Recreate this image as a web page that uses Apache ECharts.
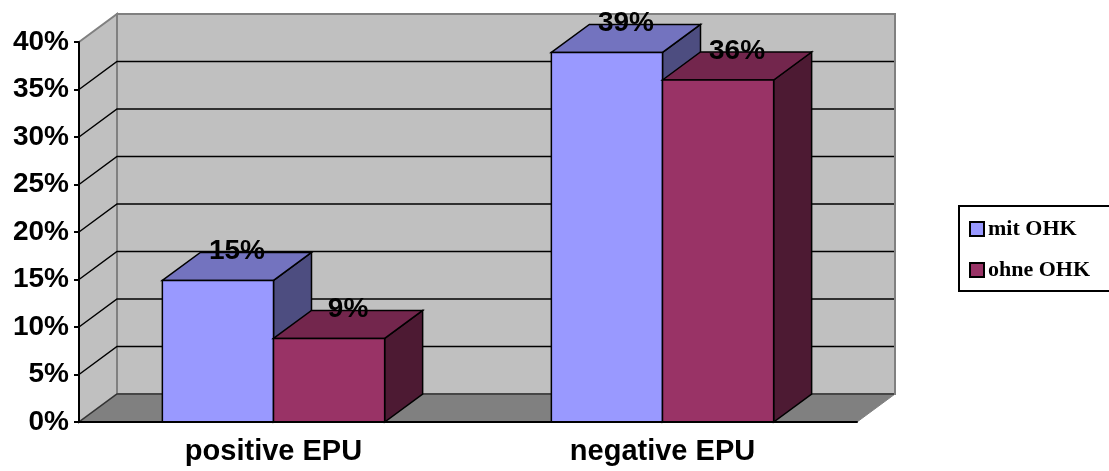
<!DOCTYPE html>
<html>
<head>
<meta charset="utf-8">
<style>
  html, body { margin: 0; padding: 0; background: #fff; }
  #chart { width: 1109px; height: 471px; }
</style>
</head>
<body>
<div id="chart"></div>
<script src="https://cdn.jsdelivr.net/npm/echarts@6/dist/echarts.min.js"></script>
<script>
const categories = ['positive EPU', 'negative EPU']
const seriesNames = ['mit OHK', 'ohne OHK']
const mitOhk = [14.9, 8.8 + 0, 0, 0].slice(0, 1).concat([38.9])
const ohneOhk = [8.8, 36]
const yTicks = [0, 5, 10, 15, 20, 25, 30, 35, 40]

// depth of the fake 3d box, in px
const DX = 38
const DY = 28
const BAR_W = 0.2857 // share of one category band

const myChart = echarts.init(document.getElementById('chart'), null, { renderer: 'canvas' })

const poly = (points, fill, stroke, lineWidth) => ({
  type: 'polygon',
  silent: true,
  shape: { points },
  style: { fill, stroke, lineWidth: lineWidth || 0 }
})

const renderWalls = (params, api) => {
  const c = params.coordSys
  const l = c.x, r = c.x + c.width, t = c.y, b = c.y + c.height
  const children = [
    poly([[l + DX, t - DY], [r + DX, t - DY], [r + DX, b - DY], [l + DX, b - DY]], '#C0C0C0', '#808080', 2),
    poly([[l, t], [l + DX, t - DY], [l + DX, b - DY], [l, b]], '#C0C0C0', '#808080', 2),
    poly([[l, b], [l + DX, b - DY], [r + DX, b - DY], [r, b]], '#808080', '#808080', 1)
  ]
  yTicks.forEach((tick) => {
    const y = api.coord([0, tick])[1]
    const dark = tick > 0
    children.push({
      type: 'polyline',
      silent: true,
      shape: { points: [[l, y], [l + DX, y - DY], [r + DX - 1, y - DY]] },
      style: { fill: null, stroke: tick >= 40 ? 'transparent' : (dark ? '#000' : '#333'), lineWidth: 1.5 }
    })
  })
  return { type: 'group', children }
}

const renderBar = (seriesIdx, front, top, side) => (params, api) => {
  const band = api.size([1, 0])[0]
  const w = band * BAR_W
  const p = api.coord([api.value(0), api.value(1)])
  const base = api.coord([api.value(0), 0])[1]
  const x0 = p[0] + (seriesIdx - 1) * w
  const x1 = x0 + w
  const y = p[1]
  return {
    type: 'group',
    children: [
      poly([[x1, y], [x1 + DX, y - DY], [x1 + DX, base - DY], [x1, base]], side, '#000', 1.5),
      poly([[x0, y], [x0 + DX, y - DY], [x1 + DX, y - DY], [x1, y]], top, '#000', 1.5),
      poly([[x0, y], [x1, y], [x1, base], [x0, base]], front, '#000', 1.5),
      {
        type: 'text',
        silent: true,
        z2: 10,
        style: {
          x: (x0 + x1) / 2 + DX / 2,
          y: y - DY - 1,
          text: Math.round(api.value(1)) + '%',
          fill: '#000',
          font: 'bold 28px "Liberation Sans"',
          align: 'center',
          verticalAlign: 'middle'
        }
      }
    ]
  }
}

const option = {
  animation: false,
  backgroundColor: '#fff',
  textStyle: { fontFamily: 'Liberation Sans' },
  grid: { left: 79, top: 42, width: 778, height: 380, containLabel: false },
  legend: {
    data: seriesNames,
    orient: 'vertical',
    left: 959,
    top: 206,
    padding: [12, 30, 10, 10],
    itemWidth: 14,
    itemHeight: 14,
    itemGap: 19,
    icon: 'rect',
    borderColor: '#000',
    borderWidth: 2,
    selectedMode: false,
    textStyle: { fontFamily: 'Liberation Serif', fontWeight: 'bold', fontSize: 22, color: '#000', padding: [0, 0, 0, -1] }
  },
  xAxis: {
    type: 'category',
    data: categories,
    z: 5,
    axisLine: { lineStyle: { color: '#000', width: 2 } },
    axisTick: { length: 6, lineStyle: { color: '#000', width: 2 } },
    axisLabel: { color: '#000', fontWeight: 'bold', fontSize: 29, margin: 15, fontFamily: 'Liberation Sans' },
    splitLine: { show: false }
  },
  yAxis: {
    type: 'value',
    min: 0,
    max: 40,
    interval: 5,
    z: 5,
    axisLine: { show: true, lineStyle: { color: '#000', width: 2 } },
    axisTick: { show: true, length: 5, lineStyle: { color: '#000', width: 2 } },
    axisLabel: { color: '#000', fontWeight: 'bold', fontSize: 28, margin: 10, formatter: '{value}%', fontFamily: 'Liberation Sans' },
    splitLine: { show: false }
  },
  series: [
    { type: 'custom', name: 'walls', z: 1, data: [[0, 0]], encode: { x: 0, y: 1 }, renderItem: renderWalls, silent: true },
    {
      type: 'custom', name: seriesNames[0], z: 2,
      itemStyle: { color: '#9999FF', borderColor: '#000', borderWidth: 2 },
      data: mitOhk.map((v, i) => [i, v]), encode: { x: 0, y: 1 },
      renderItem: renderBar(0, '#9999FF', '#7373BF', '#4D4D80')
    },
    {
      type: 'custom', name: seriesNames[1], z: 3,
      itemStyle: { color: '#993366', borderColor: '#000', borderWidth: 2 },
      data: ohneOhk.map((v, i) => [i, v]), encode: { x: 0, y: 1 },
      renderItem: renderBar(1, '#993366', '#73264D', '#4D1A33')
    }
  ]
}
myChart.setOption(option)
</script>
</body>
</html>
